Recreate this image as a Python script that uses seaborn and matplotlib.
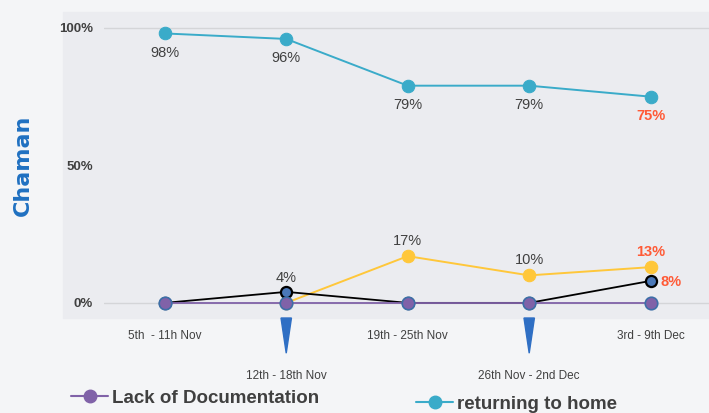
import numpy as np
import pandas as pd
import matplotlib.pyplot as plt
from matplotlib.lines import Line2D
from matplotlib.patches import Rectangle, Polygon
import seaborn as sns

# Data
weeks = ['5th  - 11h Nov', '12th - 18th Nov', '19th - 25th Nov',
         '26th Nov - 2nd Dec', '3rd - 9th Dec']
returning_home = [98, 96, 79, 79, 75]
yellow_reason = [np.nan, 0, 17, 10, 13]
black_reason = [0, 4, 0, 0, 8]
lack_of_docs = [0, 0, 0, 0, 0]

sns.set_theme(style='white')
plt.rcParams['font.family'] = ['Liberation Sans', 'DejaVu Sans']

teal = '#3aabc9'
yellow = '#ffc73a'
purple = '#8062a8'
mark_blue = '#4a78b8'
red = '#ff5a36'
txt = '#404040'
blue = '#1f70c1'

fig = plt.figure(figsize=(7.09, 4.13), dpi=100, facecolor='#f4f5f7')
# grey panel behind the plot area (includes tick labels)
panel = Rectangle((63 / 709, 1 - 318 / 413), 1, 306 / 413,
                  transform=fig.transFigure, color='#ebecf0', zorder=-5)
fig.patches.append(panel)
ax = fig.add_axes([104 / 709, 1 - 318 / 413, 605 / 709, 306 / 413])
ax.set_facecolor('none')
ax.set_zorder(1)

x = np.arange(len(weeks))
df = pd.DataFrame({'x': x, 'home': returning_home, 'yellow': yellow_reason,
                   'black': black_reason, 'docs': lack_of_docs})

sns.lineplot(data=df, x='x', y='home', ax=ax, color=teal, marker='o', markersize=9,
             markeredgecolor=teal, linewidth=1.4, zorder=3)
sns.lineplot(data=df.dropna(), x='x', y='yellow', ax=ax, color=yellow, marker='o',
             markersize=9, markeredgecolor=yellow, linewidth=1.4, zorder=3)
sns.lineplot(data=df, x='x', y='black', ax=ax, color='black', marker='o', markersize=8,
             markerfacecolor=mark_blue, markeredgecolor='black', markeredgewidth=1.6,
             linewidth=1.3, zorder=4)
sns.lineplot(data=df, x='x', y='docs', ax=ax, color=purple, marker='o', markersize=9,
             markerfacecolor=purple, markeredgecolor='#3d6fa8', markeredgewidth=1.2,
             linewidth=1.3, zorder=5)

ax.set_xlim(-0.5, 4.48)
ax.set_ylim(-5.5, 105.8)
ax.set_yticks([0, 50, 100])
ax.set_yticklabels(['0%', '50%', '100%'], fontsize=9.5, fontweight='bold', color=txt)
ax.tick_params(axis='y', length=0, pad=8)
ax.yaxis.grid(True, color='#d4d5d8', linewidth=1)
ax.get_ygridlines()[1].set_visible(False)
ax.set_xticks(x)
ax.set_xticklabels([])
ax.tick_params(axis='x', length=0)
for s in ax.spines.values():
    s.set_visible(False)
ax.set_xlabel('')
ax.set_ylabel('Chaman', fontsize=16, fontweight='bold', color=blue,
              family='DejaVu Sans')
ax.yaxis.set_label_coords(-0.117, 0.5)

# staggered week labels and blue wedges
for i, w in enumerate(weeks):
    yrow = -0.06 if i % 2 == 0 else -0.19
    ax.text(i, yrow, w, transform=ax.get_xaxis_transform(), ha='center', va='center',
            fontsize=8.5, color=txt, clip_on=False)
    if i % 2 == 1:
        ax.add_patch(Polygon([(i - 0.043, 0.0), (i + 0.043, 0.0), (i, -0.115)],
                             closed=True, transform=ax.get_xaxis_transform(),
                             color='#2f6fc4', clip_on=False))

# value labels
for i, v in enumerate(returning_home):
    last = i == len(weeks) - 1
    ax.annotate(f'{v}%', (i, v), xytext=(0, -14), textcoords='offset points',
                ha='center', va='center', fontsize=10.5,
                fontweight='bold' if last else 'normal', color=red if last else txt)
for i, v in enumerate(yellow_reason):
    if np.isnan(v) or v == 0:
        continue
    last = i == len(weeks) - 1
    ax.annotate(f'{int(v)}%', (i, v), xytext=(0, 11), textcoords='offset points',
                ha='center', va='center', fontsize=10.5,
                fontweight='bold' if last else 'normal', color=red if last else txt)
ax.annotate(f'{black_reason[1]}%', (1, black_reason[1]), xytext=(0, 10),
            textcoords='offset points', ha='center', va='center', fontsize=10.5,
            color=txt)
ax.annotate(f'{black_reason[4]}%', (4, black_reason[4]), xytext=(7, -1),
            textcoords='offset points', ha='left', va='center', fontsize=10.5,
            fontweight='bold', color=red)

# legend entries
h1 = Line2D([], [], color=purple, marker='o', markersize=9, markerfacecolor=purple,
            markeredgecolor=purple, linewidth=1.5)
h2 = Line2D([], [], color=teal, marker='o', markersize=9, markerfacecolor=teal,
            markeredgecolor=teal, linewidth=1.5)
fig.legend([h1], ['Lack of Documentation'], loc='center left',
           bbox_to_anchor=(54 / 709, 1 - 398 / 413), frameon=False, handlelength=2.0,
           handletextpad=0.2, prop={'weight': 'bold', 'size': 13.5},
           labelcolor=txt)
fig.legend([h2], ['returning to home'], loc='center left',
           bbox_to_anchor=(399 / 709, 1 - 404 / 413), frameon=False, handlelength=2.0,
           handletextpad=0.2, prop={'weight': 'bold', 'size': 13.5},
           labelcolor=txt)

fig.savefig('out.png', dpi=100, facecolor=fig.get_facecolor())
